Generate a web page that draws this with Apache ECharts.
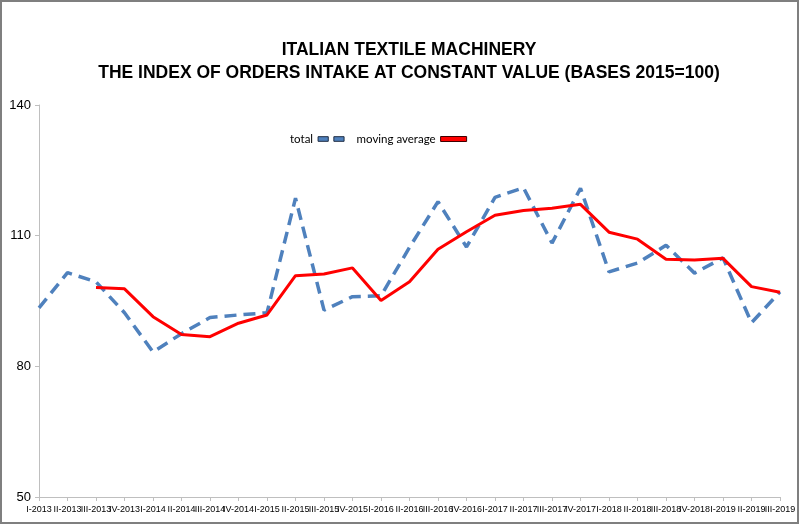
<!DOCTYPE html>
<html>
<head>
<meta charset="utf-8">
<script src="https://cdn.jsdelivr.net/npm/echarts@6/dist/echarts.min.js"></script>
<style>
html,body{margin:0;padding:0;background:#fff;}
#chart{width:800px;height:525px;}
</style>
</head>
<body>
<div id="chart"></div>
<script>
var categories = ['I-2013','II-2013','III-2013','IV-2013','I-2014','II-2014','III-2014','IV-2014',
  'I-2015','II-2015','III-2015','IV-2015','I-2016','II-2016','III-2016','IV-2016',
  'I-2017','II-2017','III-2017','IV-2017','I-2018','II-2018','III-2018','IV-2018',
  'I-2019','II-2019','III-2019'];
var totalValues = [93.4,101.5,99.4,92.3,83.3,87.5,91.2,91.8,92.3,118.6,92.9,96.0,96.2,107.3,117.8,107.4,
  118.8,121.0,108.3,120.9,101.7,103.7,107.8,101.4,104.9,90.0,97.1];
var movingAvg = [null,null,98.1,97.8,91.4,87.3,86.8,89.9,91.8,100.8,101.2,102.6,95.1,99.4,106.9,110.9,
  114.7,115.8,116.3,117.2,110.8,109.2,104.6,104.4,104.8,98.3,97.0];
var yTicks = [50,80,110,140];

var chart = echarts.init(document.getElementById('chart'));
chart.setOption({
  animation:false,
  backgroundColor:'#ffffff',
  title:{
    text:'ITALIAN TEXTILE MACHINERY\nTHE INDEX OF ORDERS INTAKE AT CONSTANT VALUE (BASES 2015=100)',
    left:404, top:34, textAlign:'center',
    textStyle:{fontFamily:'Liberation Sans, Arial',fontWeight:'bold',fontSize:17.5,lineHeight:23,color:'#000'}
  },
  legend:{
    left:285, top:128, align:'right', itemGap:12, itemWidth:26, itemHeight:5,
    textStyle:{fontFamily:'Lato',fontSize:11.5,color:'#000'},
    data:[
      {name:'total', icon:'path://M0,0H11V5H0Z M17,0H28V5H17Z',
        itemStyle:{color:'#4F81BD',borderColor:'#1F2D44',borderWidth:1}},
      {name:'moving average', icon:'rect',
        itemStyle:{color:'#FF0000',borderColor:'#400000',borderWidth:1}}
    ]
  },
  grid:{left:39,right:20,top:105,bottom:28,containLabel:false},
  xAxis:{
    type:'category', data:categories, boundaryGap:false,
    axisLine:{lineStyle:{color:'#BFBFBF',width:1}},
    axisTick:{show:true,alignWithLabel:true,interval:0,lineStyle:{color:'#BFBFBF'},length:4},
    axisLabel:{interval:0,fontFamily:'Liberation Sans, Arial',fontSize:9,color:'#000',margin:8,hideOverlap:false},
    splitLine:{show:false}
  },
  yAxis:{
    type:'value', min:50, max:140, interval:30,
    axisLine:{show:true,lineStyle:{color:'#BFBFBF',width:1}},
    axisTick:{show:true,length:4,lineStyle:{color:'#BFBFBF'}},
    axisLabel:{fontFamily:'Liberation Sans, Arial',fontSize:13,color:'#000',margin:8,
      formatter:function(v){return yTicks.indexOf(v)>=0?String(v):'';}},
    splitLine:{show:false}
  },
  series:[
    {name:'total',type:'line',data:totalValues,symbol:'none',
      lineStyle:{color:'#4F81BD',width:3.5,type:[12,7]},itemStyle:{color:'#4F81BD'},z:2},
    {name:'moving average',type:'line',data:movingAvg,symbol:'none',connectNulls:false,
      lineStyle:{color:'#FF0000',width:3},itemStyle:{color:'#FF0000'},z:3}
  ],
  graphic:[
    {type:'rect',shape:{x:1,y:1,width:797,height:522},style:{fill:'none',stroke:'#7F7F7F',lineWidth:2},silent:true}
  ]
});
</script>
</body>
</html>
